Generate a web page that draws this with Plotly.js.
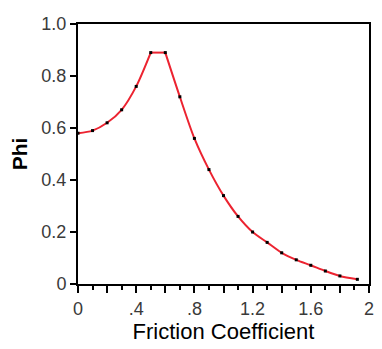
<!DOCTYPE html>
<html>
<head>
<meta charset="utf-8">
<script src="https://cdn.plot.ly/plotly-3.0.1.min.js"></script>
<style>html,body{margin:0;padding:0;background:#fff;}#chart{width:382px;height:349px;}</style>
</head>
<body>
<div id="chart"></div>
<script>
var frictionCoefficient = [0, 0.1, 0.2, 0.3, 0.4, 0.5, 0.6, 0.7, 0.8, 0.9, 1.0, 1.1, 1.2, 1.3, 1.4, 1.5, 1.6, 1.7, 1.8, 1.92];
var phi = [0.58, 0.59, 0.62, 0.67, 0.76, 0.89, 0.89, 0.72, 0.56, 0.44, 0.34, 0.26, 0.20, 0.16, 0.12, 0.093, 0.072, 0.05, 0.031, 0.018];
var xTickVals = [0, 0.2, 0.4, 0.6, 0.8, 1.0, 1.2, 1.4, 1.6, 1.8, 2.0];
var xTickText = ["0", "", ".4", "", ".8", "", "1.2", "", "1.6", "", "2"];
var yTickVals = [0, 0.2, 0.4, 0.6, 0.8, 1.0];
var yTickText = ["0", "0.2", "0.4", "0.6", "0.8", "1.0"];

// the curve is smooth on each side of the flat peak, with sharp corners at the peak
var peakStart = 5, peakEnd = 6;
function seg(a, b, shape) {
  return {x: frictionCoefficient.slice(a, b + 1), y: phi.slice(a, b + 1), type: 'scatter', mode: 'lines',
    line: {color: '#ec2330', width: 2, shape: shape, smoothing: 0.8},
    hoverinfo: 'none', cliponaxis: false};
}
var traces = [
  seg(0, peakStart, 'spline'),
  seg(peakStart, peakEnd, 'linear'),
  seg(peakEnd, frictionCoefficient.length - 1, 'spline'),
  {x: frictionCoefficient, y: phi, type: 'scatter', mode: 'markers',
   marker: {symbol: 'square', size: 3, color: '#000'},
   hoverinfo: 'none', cliponaxis: false}
];

var layout = {
  width: 382, height: 349,
  margin: {l: 78, r: 13, t: 24, b: 65},
  paper_bgcolor: '#fff', plot_bgcolor: '#fff',
  showlegend: false,
  font: {family: 'Liberation Sans, Arial, sans-serif', size: 18, color: '#3a3a3a'},
  xaxis: {
    range: [0, 2], tickmode: 'array', tickvals: xTickVals, ticktext: xTickText,
    ticks: 'outside', ticklen: 7, tickwidth: 2, tickcolor: '#000',
    minor: {dtick: 0.1, tick0: 0, ticks: 'outside', ticklen: 4, tickwidth: 2, tickcolor: '#000'},
    showline: true, linecolor: '#000', linewidth: 2, mirror: true,
    showgrid: false, zeroline: false,
    tickfont: {size: 18, color: '#3a3a3a'},
    title: {text: 'Friction Coefficient', font: {size: 22, color: '#000'}, standoff: 5}
  },
  yaxis: {
    range: [0, 1], tickmode: 'array', tickvals: yTickVals, ticktext: yTickText,
    ticks: 'outside', ticklen: 6, tickwidth: 2, tickcolor: '#000',
    showline: true, linecolor: '#000', linewidth: 2, mirror: true,
    showgrid: false, zeroline: false,
    tickfont: {size: 18, color: '#3a3a3a'},
    title: {text: '<b>Phi</b>', font: {size: 21, color: '#000'}, standoff: 8}
  }
};

Plotly.newPlot('chart', traces, layout, {staticPlot: true, displayModeBar: false});
</script>
</body>
</html>
